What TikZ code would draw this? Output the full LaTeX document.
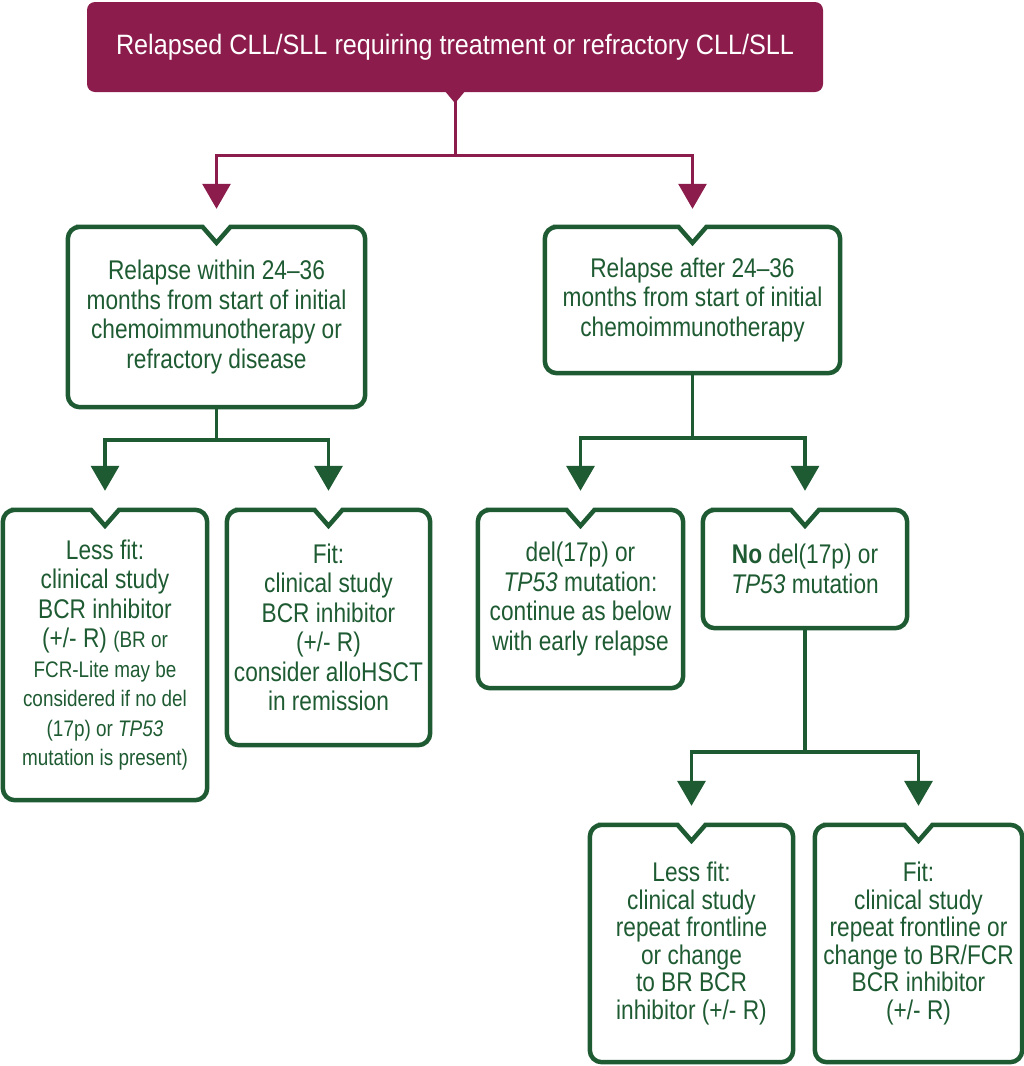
\documentclass[tikz,border=0pt]{standalone}
\usepackage{fontspec}
\setmainfont{Liberation Sans}[FakeStretch=0.84]
\newfontfamily\titlefont{Liberation Sans}[FakeStretch=0.9]
\usepackage{tikz}
\usetikzlibrary{calc}
\usetikzlibrary{arrows.meta}
\definecolor{maroon}{HTML}{8B1C4C}
\definecolor{dgreen}{HTML}{1E5B32}
\tikzstyle{txt}=[font=\fontsize{27}{29.5}\selectfont,align=center,inner sep=0pt]
\tikzstyle{gbox}=[txt,text=dgreen]
\tikzstyle{gline}=[line width=4.5pt,draw=dgreen]
\tikzstyle{garrow}=[line width=3.5pt,draw=dgreen,-{Triangle[width=28pt,length=25pt]},shorten >=19pt]
\tikzstyle{marrow}=[line width=3pt,draw=maroon,-{Triangle[width=28pt,length=25pt]},shorten >=18pt]
\newcommand{\smtxt}{\fontsize{22.5}{29.5}\selectfont}
% box outline with the notch on top
\newcommand{\notchbox}[1]{%
  \draw[gline] ($(#1.north)+(0,16)$) -- ($(#1.north)+(14,0)$) -- ($(#1.north east)+(-20,0)$)
    [rounded corners=12] -- (#1.north east) -- (#1.south east) -- (#1.south west)
    -- (#1.north west) -- ($(#1.north west)+(20,0)$) [sharp corners] -- ($(#1.north)+(-14,0)$) -- cycle;}

\begin{document}
\begin{tikzpicture}[x=1pt,y=-1pt]
\useasboundingbox (0,0) rectangle (1024,1066);
%Haut
\node[txt,font=\titlefont\fontsize{28}{30}\selectfont,text=white,fill=maroon,rounded corners=8,minimum width=736,minimum height=90] (top) at (455,47)
	{Relapsed CLL/SLL requiring treatment or refractory CLL/SLL};
\fill[maroon] ($(top.south)+(-10,-1)$) -- ($(top.south)+(10,-1)$) -- ($(top.south)+(0,11)$) -- cycle;

%niveau 1
\node[gbox,minimum width=297,minimum height=180] (early) at (216.5,317)
	{Relapse within 24--36\\months from start of initial\\chemoimmunotherapy or\\refractory disease};
\node[gbox,minimum width=295,minimum height=146] (late) at (692.5,300)
	{Relapse after 24--36\\months from start of initial\\chemoimmunotherapy};
\draw[marrow] (top.south) -- ++(0,63) -| (early.north);
\draw[marrow] (top.south) -- ++(0,63) -| (late.north);

%niveau 2 gauche
\node[gbox,minimum width=204,minimum height=290] (lessA) at (105,655)
	{Less fit:\\clinical study\\BCR inhibitor\\(+/- R) {\smtxt (BR or}\\{\smtxt FCR-Lite may be}\\{\smtxt considered if no del}\\{\smtxt (17p) or \textit{TP53}}\\{\smtxt mutation is present)}};
\node[gbox,minimum width=203,minimum height=235] (fitA) at (328.5,627.5)
	{Fit:\\clinical study\\BCR inhibitor\\(+/- R)\\consider alloHSCT\\in remission};
\draw[garrow] (early.south) -- ++(0,33) -| (lessA.north);
\draw[garrow] (early.south) -- ++(0,33) -| (fitA.north);

%niveau 2 droite
\node[gbox,minimum width=205,minimum height=178] (del) at (580.5,599)
	{del(17p) or\\\textit{TP53} mutation:\\continue as below\\with early relapse};
\node[gbox,minimum width=204,minimum height=118] (nodel) at (805,569)
	{\textbf{No} del(17p) or\\\textit{TP53} mutation};
\draw[garrow] (late.south) -- ++(0,65) -| (del.north);
\draw[garrow] (late.south) -- ++(0,65) -| (nodel.north);

%niveau 3
\node[gbox,font=\fontsize{27}{27.5}\selectfont,minimum width=203,minimum height=237] (lessB) at (691.5,943.5)
	{Less fit:\\clinical study\\repeat frontline\\or change\\to BR BCR\\inhibitor (+/- R)};
\node[gbox,font=\fontsize{27}{27.5}\selectfont,minimum width=207,minimum height=237] (fitB) at (918.5,943.5)
	{Fit:\\clinical study\\repeat frontline or\\change to BR/FCR\\BCR inhibitor\\(+/- R)};
\draw[garrow] (nodel.south) -- ++(0,124) -| (lessB.north);
\draw[garrow] (nodel.south) -- ++(0,124) -| (fitB.north);

\foreach \n in {early,late,lessA,fitA,del,nodel,lessB,fitB} {\notchbox{\n}}
\end{tikzpicture}
\end{document}
